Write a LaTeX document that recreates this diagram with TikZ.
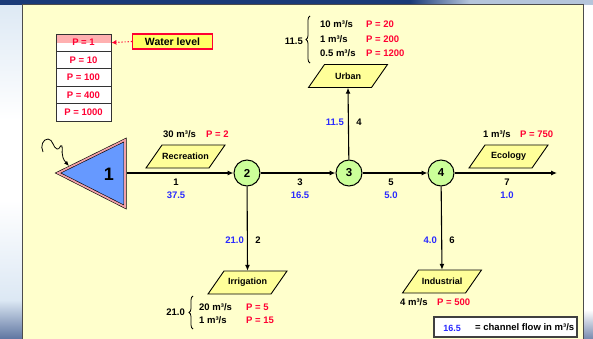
\documentclass[tikz,border=0pt]{standalone}
\usepackage{fontspec}
\setmainfont{Liberation Sans}
\usetikzlibrary{arrows.meta,shapes.geometric,decorations.pathreplacing,calc}
\definecolor{panel}{HTML}{FFFFCC}
\definecolor{paraf}{HTML}{FFFF99}
\definecolor{nodef}{HTML}{CCFF99}
\definecolor{resf}{HTML}{6699FF}
\definecolor{resb}{HTML}{F0A0A8}
\definecolor{redt}{HTML}{FF0033}
\definecolor{bluet}{HTML}{2A2AFF}
\definecolor{wlfill}{HTML}{FFFF66}
\definecolor{pinkrow}{HTML}{FFB0B0}
\definecolor{navy}{HTML}{1A3A78}
\definecolor{paleblue}{HTML}{DCE8F4}
% demand box: #1 name, #2 centre, #3 text
\newcommand{\demandbox}[3]{%
  \coordinate (#1c) at #2;
  \draw[parashape] ($(#1c)+(-39.5,11.5)$) -- ($(#1c)+(-23.5,-11.5)$) -- ($(#1c)+(39.5,-11.5)$) -- ($(#1c)+(23.5,11.5)$) -- cycle;
  \node[paratext] (#1) at (#1c) {#3};
}
\begin{document}
\begin{tikzpicture}[x=1pt,y=-1pt,
  lbl/.style={font=\bfseries\fontsize{9.5}{11}\selectfont, inner sep=0pt},
  redlbl/.style={lbl, text=redt},
  bluelbl/.style={lbl, text=bluet},
  parashape/.style={draw=black, line width=0.9pt, fill=paraf, line join=miter},
  paratext/.style={minimum height=23pt, minimum width=46pt, inner sep=0pt, font=\bfseries\fontsize{9}{10}\selectfont},
  junc/.style={circle, draw=black, line width=1pt, fill=nodef, minimum size=26pt, inner sep=0pt, font=\bfseries\fontsize{11.5}{12}\selectfont},
  flow/.style={-{Latex[length=6pt,width=5pt]}, line width=1.1pt},
  prow/.style={draw=black!80, line width=0.8pt, fill=white, minimum width=55pt, minimum height=17.4pt, inner sep=0pt, text=redt, font=\bfseries\fontsize{9.5}{11}\selectfont},
  curly/.style={decorate, decoration={brace, amplitude=4pt}, line width=0.8pt}
]
\useasboundingbox (0,0) rectangle (593,339);
% slide background
\fill[white] (0,0) rectangle (593,339);
\shade[top color=paleblue, bottom color=white] (0,0) rectangle (22,120);
\shade[top color=white, bottom color=paleblue] (0,200) rectangle (22,300);
\shade[top color=paleblue, bottom color=navy!70] (0,300) rectangle (22,339);
\shade[top color=white, bottom color=navy!60] (583,310) rectangle (593,339);
\fill[navy] (0,0) rectangle (410,5);
\shade[left color=navy, right color=paleblue!80!navy] (410,0) rectangle (470,5);
\fill[paleblue!80!navy] (470,0) rectangle (593,5);
% panel
\fill[panel] (22,4) rectangle (583,339);
\draw[black!70, line width=0.8pt] (22,339) -- (22,4) -- (583,4) -- (583,339);

% water level table
\node[prow, path picture={\fill[pinkrow] (path picture bounding box.north west) rectangle ([yshift=-9pt]path picture bounding box.north east);}] (t1) at (83.5,42.7) {P = 1};
\node[prow] (t2) at (83.5,60.1) {P = 10};
\node[prow] (t3) at (83.5,77.5) {P = 100};
\node[prow] (t4) at (83.5,94.9) {P = 400};
\node[prow] (t5) at (83.5,112.3) {P = 1000};
\node[draw=redt, line width=1.3pt, fill=wlfill, minimum width=80pt, minimum height=15pt, inner sep=0pt, font=\bfseries\fontsize{10.5}{12}\selectfont] (wl) at (172.5,41.5) {Water level};
\draw[redt, line width=1.1pt, dotted, -{Latex[length=5pt,width=5pt]}] (wl.west) -- (t1.east);

% reservoir
\draw[draw=black, double=resb, double distance=1.8pt, line width=0.6pt, fill=resf, line join=miter] (58,173) -- (125,140) -- (125,207) -- cycle;
\node[font=\bfseries\fontsize{18}{20}\selectfont, inner sep=0pt] (r1) at (109,174) {1};
\coordinate (r1out) at (126.5,173);
\coordinate (rain) at (43,152);
\coordinate (rainend) at (69,166);
\draw[line width=0.8pt, -{Latex[length=5pt,width=4pt]}] (rain) .. controls (40,146) and (43,139) .. (48,139) .. controls (53,139) and (53,148) .. (57,149) .. controls (60,150) and (60,144) .. (62,146) .. controls (63,148) and (60,156) .. (rainend);

% junctions
\node[junc] (n2) at (247,173) {2};
\node[junc] (n3) at (349,173) {3};
\node[junc] (n4) at (441,173) {4};
\coordinate (out7) at (557,173);

% demand nodes
\demandbox{rec}{(185.5,156.5)}{Recreation}
\demandbox{eco}{(508.5,156.5)}{Ecology}
\demandbox{urb}{(348,76)}{Urban}
\demandbox{irr}{(247.5,282.5)}{Irrigation}
\demandbox{ind}{(442,281.5)}{Industrial}

% channels
\draw[flow] (r1out) -- (n2);
\draw[flow] (n2) -- (n3);
\draw[flow] (n3) -- (n4);
\draw[flow] (n4) -- (out7);
\draw[flow] (n3) -- (urb.south);
\draw[flow] (n2) -- (irr.north);
\draw[flow] (n4) -- (ind.north);

% channel labels
\node[lbl] (c1) at (176,182) {1};
\node[bluelbl] (f1) at (176,195) {37.5};
\node[lbl] (c3) at (300,182) {3};
\node[bluelbl] (f3) at (300,195) {16.5};
\node[lbl] (c5) at (391,182) {5};
\node[bluelbl] (f5) at (391,195) {5.0};
\node[lbl] (c7) at (507,182) {7};
\node[bluelbl] (f7) at (507,195) {1.0};
\node[bluelbl, anchor=east] (f4) at (344,122) {11.5};
\node[lbl] (c4) at (359,122) {4};
\node[bluelbl, anchor=east] (f2) at (244,240) {21.0};
\node[lbl] (c2) at (258,240) {2};
\node[bluelbl, anchor=east] (f6) at (437,240) {4.0};
\node[lbl] (c6) at (452,240) {6};

% recreation demand
\node[lbl, anchor=west] (recq) at (163,134.5) {30 m³/s};
\node[redlbl, anchor=west] (recp) at (206,134.5) {P = 2};
% ecology demand
\node[lbl, anchor=west] (ecoq) at (483,134.5) {1 m³/s};
\node[redlbl, anchor=west] (ecop) at (520,134.5) {P = 750};
% industrial demand
\node[lbl, anchor=west] (indq) at (400,302) {4 m³/s};
\node[redlbl, anchor=west] (indp) at (437,302) {P = 500};

% urban demands
\draw[curly] (310,63) -- (310,16);
\node[lbl, anchor=east] (urbt) at (303,41) {11.5};
\node[lbl, anchor=west] (u1q) at (320,24.5) {10 m³/s};
\node[redlbl, anchor=west] (u1p) at (366,24.5) {P = 20};
\node[lbl, anchor=west] (u2q) at (320,39) {1 m³/s};
\node[redlbl, anchor=west] (u2p) at (366,39) {P = 200};
\node[lbl, anchor=west] (u3q) at (320,53.5) {0.5 m³/s};
\node[redlbl, anchor=west] (u3p) at (366,53.5) {P = 1200};

% irrigation demands
\draw[curly] (193,329) -- (193,296);
\node[lbl, anchor=east] (irrt) at (185,312.5) {21.0};
\node[lbl, anchor=west] (i1q) at (199,307) {20 m³/s};
\node[redlbl, anchor=west] (i1p) at (246,307) {P = 5};
\node[lbl, anchor=west] (i2q) at (199,320.5) {1 m³/s};
\node[redlbl, anchor=west] (i2p) at (246,320.5) {P = 15};

% legend
\node[draw=black!75, line width=1.2pt, fill=white, minimum width=143pt, minimum height=20pt, inner sep=0pt] (leg) at (505.5,327) {};
\node[bluelbl, font=\bfseries\fontsize{9}{10}\selectfont] (legf) at (452,328) {16.5};
\node[lbl, anchor=west, font=\bfseries\fontsize{9.5}{10}\selectfont] (legt) at (475,327) {= channel flow in m³/s};
\end{tikzpicture}
\end{document}
